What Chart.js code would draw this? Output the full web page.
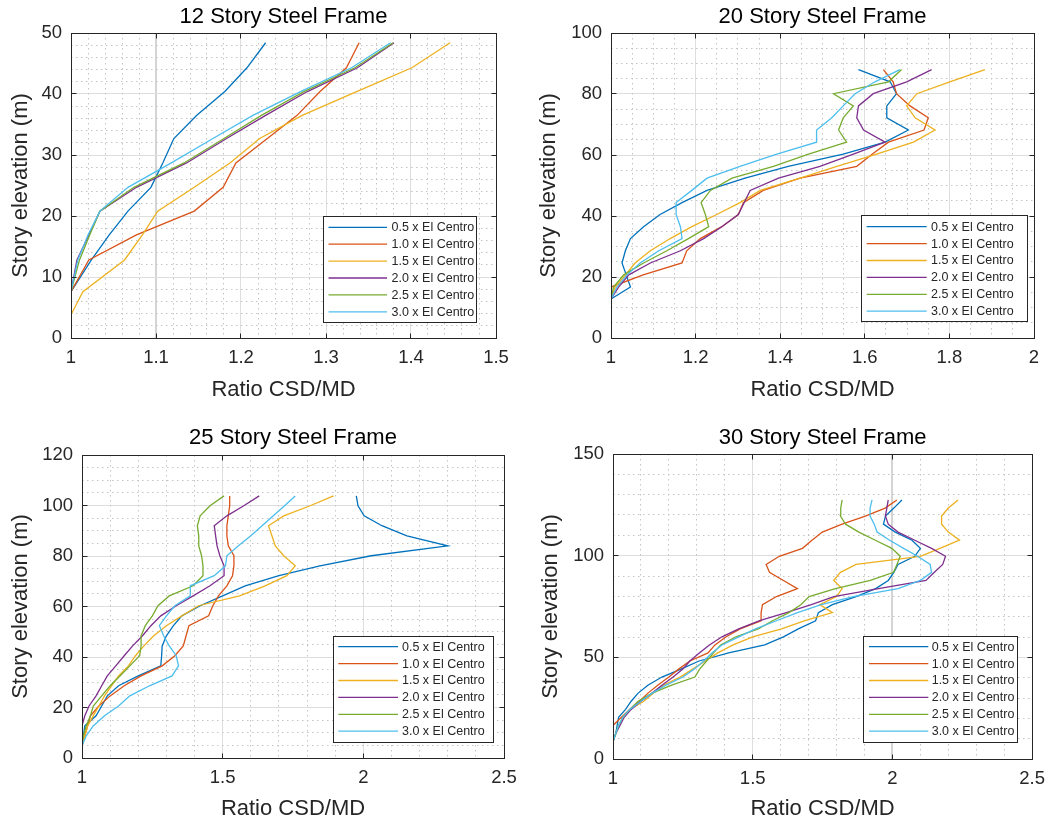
<!DOCTYPE html>
<html>
<head>
<meta charset="utf-8">
<script src="https://cdn.jsdelivr.net/npm/chart.js@4.4.1/dist/chart.umd.min.js"></script>
<style>
  html, body { margin: 0; padding: 0; background: #ffffff; }
  #wrap { position: relative; width: 1054px; height: 824px; overflow: hidden; }
  canvas { position: absolute; }
</style>
</head>
<body>
<div id="wrap">
  <canvas id="c12" width="527" height="412" style="left:0px;top:0px;width:527px;height:412px"></canvas>
  <canvas id="c20" width="527" height="412" style="left:527px;top:0px;width:527px;height:412px"></canvas>
  <canvas id="c25" width="527" height="412" style="left:0px;top:412px;width:527px;height:412px"></canvas>
  <canvas id="c30" width="527" height="412" style="left:527px;top:412px;width:527px;height:412px"></canvas>
</div>
<script>
// ---------- data ----------
const legendLabels = ['0.5 x El Centro', '1.0 x El Centro', '1.5 x El Centro',
                      '2.0 x El Centro', '2.5 x El Centro', '3.0 x El Centro'];

// 12-story frame: floor elevations (m) and CSD/MD ratios per record scale
const elev12 = [3.8, 7.6, 12.8, 16.9, 20.8, 24.7, 28.7, 32.7, 36.5, 40.4, 44.3, 48.4];
const r12_05 = [1.000, 1.000, 1.024, 1.045, 1.067, 1.094, 1.108, 1.121, 1.148, 1.181, 1.207, 1.229];
const r12_10 = [1.000, 1.000, 1.021, 1.077, 1.145, 1.179, 1.194, 1.231, 1.266, 1.293, 1.324, 1.339];
const r12_15 = [1.000, 1.014, 1.063, 1.084, 1.102, 1.145, 1.187, 1.222, 1.272, 1.336, 1.401, 1.446];
const r12_20 = [1.000, 1.000, 1.007, 1.021, 1.034, 1.077, 1.136, 1.183, 1.229, 1.278, 1.337, 1.380];
const r12_25 = [1.000, 1.000, 1.010, 1.022, 1.034, 1.074, 1.133, 1.180, 1.224, 1.274, 1.334, 1.379];
const r12_30 = [1.000, 1.000, 1.008, 1.020, 1.034, 1.067, 1.118, 1.167, 1.214, 1.270, 1.330, 1.376];

// 20-story frame
const elev20 = [7.7, 12.8, 16.7, 20.7, 24.6, 28.6, 32.6, 36.5, 40.5, 44.4, 48.4,
                52.4, 56.3, 60.3, 64.2, 68.2, 72.2, 76.1, 80.1, 84.0, 88.0];
const r20_05 = [1.000, 1.000, 1.046, 1.036, 1.026, 1.034, 1.046, 1.077, 1.116, 1.168, 1.227,
                1.317, 1.419, 1.549, 1.648, 1.703, 1.652, 1.652, 1.675, 1.660, 1.585];
const r20_10 = [1.000, 1.000, 1.000, 1.076, 1.168, 1.179, 1.211, 1.262, 1.301, 1.313, 1.360,
                1.447, 1.581, 1.618, 1.656, 1.740, 1.750, 1.707, 1.675, 1.667, 1.644];
const r20_15 = [1.000, 1.000, 1.010, 1.034, 1.057, 1.093, 1.140, 1.191, 1.250, 1.305, 1.353,
                1.447, 1.534, 1.628, 1.715, 1.766, 1.719, 1.699, 1.723, 1.801, 1.884];
const r20_20 = [1.000, 1.000, 1.018, 1.042, 1.093, 1.164, 1.219, 1.262, 1.301, 1.315, 1.329,
                1.396, 1.494, 1.573, 1.648, 1.597, 1.581, 1.585, 1.620, 1.699, 1.758];
const r20_25 = [1.000, 1.000, 1.006, 1.030, 1.077, 1.132, 1.183, 1.231, 1.223, 1.213, 1.235,
                1.286, 1.384, 1.467, 1.557, 1.538, 1.549, 1.573, 1.526, 1.656, 1.687];
const r20_30 = [1.000, 1.000, 1.014, 1.038, 1.069, 1.113, 1.168, 1.164, 1.154, 1.154, 1.191,
                1.227, 1.305, 1.392, 1.486, 1.486, 1.522, 1.549, 1.577, 1.624, 1.683];

// 25-story frame
const elev25 = [4.8, 8.8, 12.7, 16.7, 20.6, 24.6, 28.6, 32.5, 36.5, 40.5, 44.4, 48.4, 52.4,
                56.3, 60.3, 64.2, 68.2, 72.2, 76.1, 80.1, 84.0, 88.0, 92.0, 95.9, 99.9, 103.8];
const r25_05 = [1.000, 1.005, 1.010, 1.050, 1.070, 1.090, 1.130, 1.200, 1.280, 1.283, 1.285, 1.300, 1.325,
                1.355, 1.420, 1.500, 1.580, 1.700, 1.846, 2.028, 2.300, 2.155, 2.066, 2.003, 1.981, 1.975];
const r25_10 = [1.000, 1.010, 1.020, 1.030, 1.060, 1.100, 1.150, 1.210, 1.285, 1.330, 1.360, 1.370, 1.380,
                1.450, 1.465, 1.485, 1.515, 1.535, 1.540, 1.540, 1.520, 1.515, 1.515, 1.520, 1.525, 1.525];
const r25_15 = [1.000, 1.010, 1.020, 1.040, 1.060, 1.080, 1.105, 1.130, 1.165, 1.190, 1.220, 1.255, 1.300,
                1.355, 1.414, 1.560, 1.651, 1.728, 1.758, 1.717, 1.687, 1.675, 1.663, 1.717, 1.811, 1.894];
const r25_20 = [1.000, 1.000, 1.000, 1.010, 1.025, 1.050, 1.070, 1.090, 1.120, 1.150, 1.180, 1.215, 1.245,
                1.280, 1.335, 1.395, 1.455, 1.505, 1.505, 1.490, 1.480, 1.475, 1.470, 1.515, 1.575, 1.630];
const r25_25 = [1.000, 1.005, 1.015, 1.030, 1.040, 1.070, 1.100, 1.135, 1.170, 1.205, 1.210, 1.210, 1.225,
                1.250, 1.270, 1.310, 1.395, 1.430, 1.430, 1.425, 1.415, 1.415, 1.410, 1.420, 1.455, 1.505];
const r25_30 = [1.000, 1.015, 1.040, 1.080, 1.130, 1.170, 1.240, 1.320, 1.343, 1.335, 1.310, 1.290, 1.275,
                1.300, 1.330, 1.385, 1.385, 1.470, 1.510, 1.515, 1.555, 1.600, 1.640, 1.680, 1.720, 1.758];

// 30-story frame
const elev30 = [8.6, 12.6, 16.5, 20.5, 24.4, 28.4, 32.4, 36.3, 40.3, 44.2, 48.2, 52.2, 56.1, 60.1, 64.0, 68.0,
                72.0, 75.9, 79.9, 83.8, 87.8, 91.8, 95.7, 99.7, 103.6, 107.6, 111.6, 115.5, 119.5, 123.4, 127.4];
const r30_05 = [1.000, 1.010, 1.015, 1.020, 1.045, 1.065, 1.090, 1.125, 1.175, 1.243, 1.308, 1.414, 1.543, 1.610, 1.663, 1.725,
                1.735, 1.785, 1.870, 1.940, 1.985, 2.005, 2.020, 2.080, 2.100, 2.070, 2.010, 1.968, 1.975, 2.005, 2.034];
const r30_10 = [1.000, 1.000, 1.000, 1.030, 1.060, 1.095, 1.125, 1.160, 1.200, 1.235, 1.275, 1.340, 1.365, 1.405, 1.455, 1.530,
                1.530, 1.535, 1.585, 1.660, 1.610, 1.560, 1.548, 1.595, 1.678, 1.712, 1.749, 1.820, 1.903, 1.974, 2.016];
const r30_15 = [1.000, 1.010, 1.020, 1.035, 1.060, 1.110, 1.145, 1.180, 1.240, 1.285, 1.330, 1.375, 1.430, 1.500, 1.603, 1.687,
                1.785, 1.740, 1.800, 1.820, 1.790, 1.814, 1.870, 2.100, 2.170, 2.240, 2.200, 2.176, 2.176, 2.200, 2.235];
const r30_20 = [1.000, 1.010, 1.025, 1.040, 1.065, 1.100, 1.140, 1.175, 1.215, 1.250, 1.275, 1.310, 1.345, 1.390, 1.450, 1.525,
                1.620, 1.710, 1.790, 1.950, 2.120, 2.150, 2.180, 2.190, 2.140, 2.080, 2.020, 1.985, 1.975, 1.980, 1.985];
const r30_25 = [1.000, 1.010, 1.020, 1.035, 1.060, 1.090, 1.140, 1.210, 1.293, 1.310, 1.335, 1.360, 1.385, 1.440, 1.520, 1.571,
                1.630, 1.672, 1.702, 1.796, 1.921, 2.004, 2.016, 2.028, 1.998, 1.939, 1.880, 1.832, 1.814, 1.815, 1.820];
const r30_30 = [1.000, 1.010, 1.020, 1.035, 1.060, 1.100, 1.140, 1.190, 1.250, 1.290, 1.325, 1.355, 1.390, 1.450, 1.510, 1.585,
                1.660, 1.745, 1.860, 2.020, 2.100, 2.140, 2.135, 2.090, 2.040, 1.990, 1.945, 1.935, 1.920, 1.920, 1.927];

// ---------- styling ----------
const FONT = "'Liberation Sans', Arial, Helvetica, sans-serif";
const TEXT = '#262626';
const COLORS = ['#0072BD', '#D95319', '#EDB120', '#7E2F8E', '#77AC30', '#4DBEEE'];

// centre the chart title over the plot area rather than the whole canvas
const titleOverPlot = {
  id: 'titleOverPlot',
  afterLayout(chart) {
    const tb = chart.titleBlock;
    if (tb) { tb.left = chart.chartArea.left; tb.right = chart.chartArea.right; tb.width = tb.right - tb.left; }
  }
};

// dotted minor grid between the major grid lines
const minorGrid = {
  id: 'minorGrid',
  beforeDatasetsDraw(chart, args, o) {
    const { ctx, chartArea: a, scales: { x, y } } = chart;
    const onMajor = (v, origin, step) => {
      const q = (v - origin) / step;
      return Math.abs(q - Math.round(q)) < 1e-6;
    };
    ctx.save();
    ctx.strokeStyle = o.color;
    ctx.lineWidth = 1;
    ctx.setLineDash(o.dash);
    const nx = Math.round((x.max - x.min) / o.xMinor);
    for (let i = 1; i < nx; i++) {
      const v = x.min + i * o.xMinor;
      if (onMajor(v, x.min, o.xMajor)) continue;
      const p = Math.round(x.getPixelForValue(v) - 0.5) + 0.5;
      ctx.beginPath(); ctx.moveTo(p, a.top); ctx.lineTo(p, a.bottom); ctx.stroke();
    }
    const ny = Math.round((y.max - y.min) / o.yMinor);
    for (let i = 1; i < ny; i++) {
      const v = y.min + i * o.yMinor;
      if (onMajor(v, y.min, o.yMajor)) continue;
      const p = Math.round(y.getPixelForValue(v) - 0.5) + 0.5;
      ctx.beginPath(); ctx.moveTo(a.left, p); ctx.lineTo(a.right, p); ctx.stroke();
    }
    ctx.restore();
  }
};

// axes box with inward tick marks on all four sides
const axesBox = {
  id: 'axesBox',
  afterDatasetsDraw(chart, args, o) {
    const { ctx, chartArea: a, scales: { x, y } } = chart;
    const al = v => Math.round(v - 0.5) + 0.5;
    const l = al(a.left), r = al(a.right), t = al(a.top), b = al(a.bottom);
    ctx.save();
    ctx.strokeStyle = o.color;
    ctx.lineWidth = 1;
    ctx.strokeRect(l, t, r - l, b - t);
    ctx.beginPath();
    x.ticks.forEach(tk => {
      const p = al(x.getPixelForValue(tk.value));
      ctx.moveTo(p, b); ctx.lineTo(p, b - o.len);
      ctx.moveTo(p, t); ctx.lineTo(p, t + o.len);
    });
    y.ticks.forEach(tk => {
      const p = al(y.getPixelForValue(tk.value));
      ctx.moveTo(l, p); ctx.lineTo(l + o.len, p);
      ctx.moveTo(r, p); ctx.lineTo(r - o.len, p);
    });
    ctx.stroke();
    ctx.restore();
  }
};

// boxed legend placed inside the plot area
const boxLegend = {
  id: 'boxLegend',
  afterDraw(chart, args, o) {
    const { ctx } = chart;
    ctx.save();
    ctx.fillStyle = '#ffffff';
    ctx.fillRect(o.x0, o.y0, o.x1 - o.x0, o.y1 - o.y0);
    ctx.strokeStyle = '#262626';
    ctx.lineWidth = 1;
    ctx.strokeRect(Math.round(o.x0) + 0.5, Math.round(o.y0) + 0.5,
                   Math.round(o.x1 - o.x0), Math.round(o.y1 - o.y0));
    ctx.font = o.fontSize + 'px ' + FONT;
    ctx.textBaseline = 'middle';
    ctx.textAlign = 'left';
    chart.data.datasets.forEach((ds, i) => {
      const yy = o.row0 + i * o.rowGap;
      ctx.strokeStyle = ds.borderColor;
      ctx.lineWidth = 1.3;
      ctx.beginPath(); ctx.moveTo(o.line0, yy); ctx.lineTo(o.line1, yy); ctx.stroke();
      ctx.fillStyle = TEXT;
      ctx.fillText(ds.label, o.text0, yy + 0.5);
    });
    ctx.restore();
  }
};

function fmt(v) { return String(parseFloat(v.toFixed(2))); }

function makeChart(id, p) {
  const datasets = p.series.map((vals, i) => ({
    label: legendLabels[i],
    data: vals.map((v, k) => ({ x: v, y: p.elev[k] })),
    borderColor: COLORS[i],
    backgroundColor: COLORS[i],
    borderWidth: 1.3,
    pointRadius: 0,
    showLine: true,
    tension: 0,
    fill: false,
    order: p.series.length - i
  }));
  const isBold = c => p.boldX !== undefined && c.tick && Math.abs(c.tick.value - p.boldX) < 1e-6;
  return new Chart(document.getElementById(id), {
    type: 'scatter',
    data: { datasets },
    plugins: [titleOverPlot, minorGrid, axesBox, boxLegend],
    options: {
      responsive: false,
      animation: false,
      devicePixelRatio: 1,
      layout: { padding: { left: 0, right: p.padRight, top: 0, bottom: 0 } },
      plugins: {
        legend: { display: false },
        tooltip: { enabled: false },
        title: {
          display: true, text: p.title, color: '#000000',
          font: { family: FONT, size: 22, weight: 'normal' },
          padding: { top: p.titleTop, bottom: p.titleBottom }
        },
        minorGrid: { color: '#c4c4c4', dash: [1.5, 3.5], xMinor: p.xMinor, xMajor: p.xStep, yMinor: p.yMinor, yMajor: p.yStep },
        axesBox: { color: '#262626', len: 5 },
        boxLegend: p.legend
      },
      scales: {
        x: {
          type: 'linear', min: p.xMin, max: p.xMax,
          afterFit: s => { s.height = p.xAxisH; },
          ticks: {
            stepSize: p.xStep, autoSkip: false, maxRotation: 0, padding: 9,
            color: TEXT, font: { family: FONT, size: 18.5 }, callback: fmt
          },
          grid: {
            drawTicks: false,
            color: c => isBold(c) ? '#d4d4d4' : '#dedede',
            lineWidth: c => isBold(c) ? 2 : 1
          },
          border: { display: false },
          title: {
            display: true, text: 'Ratio CSD/MD', color: TEXT,
            font: { family: FONT, size: 22 }, padding: { top: 0, bottom: p.xTitleBottom }
          }
        },
        y: {
          type: 'linear', min: 0, max: p.yMax,
          afterFit: s => { s.width = p.yAxisW; },
          ticks: {
            stepSize: p.yStep, autoSkip: false, padding: 9,
            color: TEXT, font: { family: FONT, size: 18.5 }
          },
          grid: { drawTicks: false, color: '#dedede', lineWidth: 1 },
          border: { display: false },
          title: {
            display: true, text: 'Story elevation (m)', color: TEXT,
            font: { family: FONT, size: 22 }, padding: { top: p.yTitleLeft, bottom: 0 }
          }
        }
      }
    }
  });
}

makeChart('c12', {
  title: '12 Story Steel Frame', elev: elev12,
  series: [r12_05, r12_10, r12_15, r12_20, r12_25, r12_30],
  xMin: 1, xMax: 1.5, xStep: 0.1, xMinor: 0.02, yMax: 50, yStep: 10, yMinor: 2, boldX: 1.1,
  yAxisW: 71, padRight: 31, titleTop: 3.8, titleBottom: 2.8, xAxisH: 74, xTitleBottom: 8.8, yTitleLeft: 7.8,
  legend: { x0: 323, y0: 216, x1: 476, y1: 322, line0: 328.5, line1: 387, text0: 391.5, row0: 227.3, rowGap: 16.9, fontSize: 12.5 }
});

makeChart('c20', {
  title: '20 Story Steel Frame', elev: elev20,
  series: [r20_05, r20_10, r20_15, r20_20, r20_25, r20_30],
  xMin: 1, xMax: 2, xStep: 0.2, xMinor: 0.05, yMax: 100, yStep: 20, yMinor: 5,
  yAxisW: 84, padRight: 20, titleTop: 3.8, titleBottom: 2.8, xAxisH: 74, xTitleBottom: 8.8, yTitleLeft: 8.8,
  legend: { x0: 334, y0: 215, x1: 500, y1: 321, line0: 339.7, line1: 399.7, text0: 404, row0: 226.7, rowGap: 16.9, fontSize: 12.5 }
});

makeChart('c25', {
  title: '25 Story Steel Frame', elev: elev25,
  series: [r25_05, r25_10, r25_15, r25_20, r25_25, r25_30],
  xMin: 1, xMax: 2.5, xStep: 0.5, xMinor: 0.1, yMax: 120, yStep: 20, yMinor: 5,
  yAxisW: 82, padRight: 23, titleTop: 12.8, titleBottom: 3.8, xAxisH: 66, xTitleBottom: 1.8, yTitleLeft: 7.8,
  legend: { x0: 333, y0: 224, x1: 493, y1: 330, line0: 338.3, line1: 398, text0: 402, row0: 234.7, rowGap: 16.9, fontSize: 12.5 }
});

makeChart('c30', {
  title: '30 Story Steel Frame', elev: elev30,
  series: [r30_05, r30_10, r30_15, r30_20, r30_25, r30_30],
  xMin: 1, xMax: 2.5, xStep: 0.5, xMinor: 0.1, yMax: 150, yStep: 50, yMinor: 10, boldX: 2,
  yAxisW: 86, padRight: 20, titleTop: 12.8, titleBottom: 2.8, xAxisH: 65, xTitleBottom: 1.8, yTitleLeft: 10.8,
  legend: { x0: 336, y0: 224, x1: 490, y1: 330, line0: 342, line1: 401.3, text0: 404.7, row0: 234.7, rowGap: 16.9, fontSize: 12.5 }
});
</script>
</body>
</html>
